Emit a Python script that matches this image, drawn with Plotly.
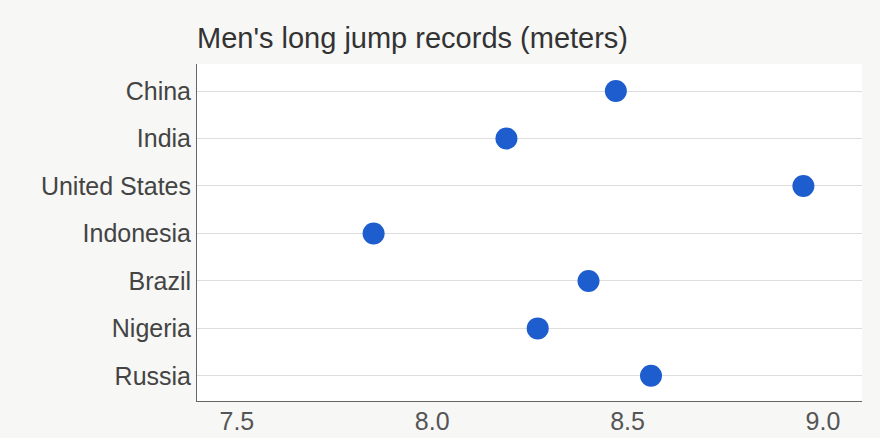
import plotly.graph_objects as go

# Men's long jump national records, in meters
countries = ["China", "India", "United States", "Indonesia", "Brazil", "Nigeria", "Russia"]
records = [8.47, 8.19, 8.95, 7.85, 8.40, 8.27, 8.56]
x_ticks = [7.5, 8.0, 8.5, 9.0]
x_tick_text = ["7.5", "8.0", "8.5", "9.0"]

fig = go.Figure(
    go.Scatter(
        x=records,
        y=countries,
        mode="markers",
        marker=dict(size=22, color="#1d5dcd", line=dict(width=0)),
        hovertemplate="%{y}: %{x:.2f} m<extra></extra>",
    )
)

fig.update_layout(
    width=880,
    height=438,
    margin=dict(l=197, r=18, t=64, b=37),
    paper_bgcolor="#f7f7f5",
    plot_bgcolor="#ffffff",
    font=dict(family="Liberation Sans, Arial, sans-serif", color="#444444"),
    title=dict(
        text="Men's long jump records (meters)",
        x=0, xref="paper", xanchor="left",
        y=1 - 38 / 438, yref="container", yanchor="middle",
        font=dict(size=29, color="#333333"),
    ),
    showlegend=False,
)

fig.update_xaxes(
    range=[7.398, 9.1],
    tickvals=x_ticks,
    ticktext=x_tick_text,
    tickfont=dict(size=25, color="#555555"),
    showgrid=False,
    zeroline=False,
    showline=True,
    linecolor="#666666",
    linewidth=1,
    ticks="",
    automargin=False,
    ticklabelstandoff=-2,
)
fig.update_yaxes(
    categoryorder="array",
    categoryarray=countries,
    range=[6.53, -0.57],
    tickfont=dict(size=25, color="#444444"),
    showgrid=True,
    gridcolor="#dddddd",
    gridwidth=1,
    zeroline=False,
    showline=True,
    linecolor="#666666",
    linewidth=1,
    ticks="",
    automargin=False,
    ticklabelstandoff=0,
)

fig.write_html("out.html")
